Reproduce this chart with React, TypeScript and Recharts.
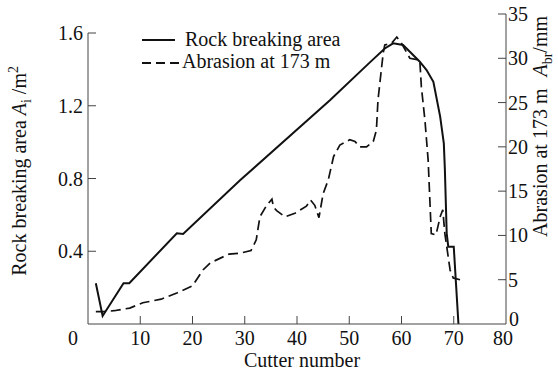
import React from "react";
import {
  LineChart,
  Line,
  XAxis,
  YAxis,
  Legend,
  Label,
  ReferenceLine,
} from "recharts";

// rock breaking area per cutter (m^2)
const rockCutters = [
  1.5, 2.8, 6.8, 7.9, 17.0, 18.2, 29.1, 46.3, 54.0, 56.8, 58.4, 60.3, 61.6,
  63.5, 64.8, 66.1, 67.4, 68.1, 68.3, 68.65, 68.95, 70.0, 70.9,
];
const rockArea = [
  0.224, 0.044, 0.224, 0.224, 0.499, 0.495, 0.79, 1.23, 1.44, 1.515, 1.543,
  1.534, 1.497, 1.442, 1.396, 1.332, 1.14, 0.993, 0.85, 0.499, 0.425, 0.425, 0,
];

// cutter wear after 173 m of advance (mm)
const wearCutters = [
  1.5, 3, 5, 8, 10.5, 14, 17, 20, 22, 23.4, 27, 29.2, 31.2, 32.2, 32.9, 34.2,
  35.2, 35.5, 36.1, 37.7, 39.6, 41.8, 42.6, 43.4, 44.2, 45.0, 46.0, 47.0, 48.2,
  50.1, 51.1, 52.0, 53.3, 54.6, 55.2, 55.5, 56.5, 56.8, 58.1, 59.1, 60.0, 61.6,
  63.5, 63.8, 64.5, 65.1, 65.7, 66.6, 67.4, 67.9, 68.3, 69.3, 69.9, 71.2,
];
const wearDepth = [
  1.4, 1.4, 1.5, 1.8, 2.4, 2.8, 3.5, 4.3, 6.1, 6.9, 7.9, 8.0, 8.3, 9.5, 12.1,
  13.4, 14.1, 13.2, 12.8, 12.1, 12.5, 13.3, 14.0, 13.4, 12.0, 14.7, 16.3, 18.9,
  20.2, 20.8, 20.6, 20.0, 20.0, 20.6, 21.9, 25.3, 30.6, 31.5, 31.7, 32.4, 31.7,
  30.0, 29.8, 26.8, 22.9, 18.5, 10.2, 10.05, 12.1, 12.9, 10.2, 6.1, 5.2, 5.0,
];

const xTicks = [0, 10, 20, 30, 40, 50, 60, 70, 80];
const areaTicks = [0, 0.4, 0.8, 1.2, 1.6];
const wearTicks = [0, 5, 10, 15, 20, 25, 30, 35];

const areaData = rockCutters.map((c, i) => ({ cutter: c, area: rockArea[i] }));
const wearData = wearCutters.map((c, i) => ({ cutter: c, wear: wearDepth[i] }));

const FONT = "'Liberation Serif', 'Times New Roman', serif";
const AXIS = "#444";
const INK = "#111";
const TICK_LEN = 8;

const labelStyle = { fontFamily: FONT, fontSize: 20, fill: INK };

function BottomTick({ x, y, payload }: any) {
  const v = payload.value;
  if (v === 0) {
    // shared origin label sits left of the corner
    return (
      <text x={x - 15} y={y + 21} textAnchor="middle" style={labelStyle}>
        0
      </text>
    );
  }
  // last label nudged left so it clears the right axis "0"
  const dx = v === 80 ? -3 : 0;
  return (
    <g>
      {v < 80 && <line x1={x} x2={x} y1={y} y2={y - TICK_LEN} stroke={AXIS} />}
      <text x={x + dx} y={y + 21} textAnchor="middle" style={labelStyle}>
        {v}
      </text>
    </g>
  );
}

function LeftTick({ x, y, payload }: any) {
  const v = payload.value;
  if (v === 0) return null;
  return (
    <g>
      <line x1={x} x2={x + TICK_LEN} y1={y} y2={y} stroke={AXIS} />
      <text x={x - 5} y={y + 7} textAnchor="end" style={labelStyle}>
        {v.toFixed(1)}
      </text>
    </g>
  );
}

function RightTick({ x, y, payload }: any) {
  const v = payload.value;
  return (
    <g>
      {v > 0 && <line x1={x - TICK_LEN} x2={x} y1={y} y2={y} stroke={AXIS} />}
      <text
        x={v === 0 ? x + 3 : x + 2}
        y={v === 0 ? y + 2 : y + 7}
        textAnchor="start"
        style={labelStyle}
      >
        {v}
      </text>
    </g>
  );
}

const XTitle = ({ viewBox }: any) => (
  <text
    x={viewBox.x + viewBox.width / 2 + 5}
    y={367}
    textAnchor="middle"
    style={labelStyle}
  >
    Cutter number
  </text>
);

const LeftTitle = () => (
  <text
    transform="translate(26,66) rotate(-90)"
    textAnchor="end"
    style={labelStyle}
  >
    Rock breaking area{" "}
    <tspan fontStyle="italic">A</tspan>
    <tspan dy={5} fontSize={14}>
      i
    </tspan>
    <tspan dy={-5}> /m</tspan>
    <tspan dy={-8} fontSize={14}>
      2
    </tspan>
  </text>
);

const RightTitle = () => (
  <text
    transform="translate(547,16) rotate(-90)"
    textAnchor="end"
    style={labelStyle}
  >
    Abrasion at 173 m
    <tspan dx={12} fontStyle="italic">
      A
    </tspan>
    <tspan dy={5} fontSize={14}>
      br
    </tspan>
    <tspan dy={-5}>/mm</tspan>
  </text>
);

const LegendBox = () => (
  <svg width={240} height={50} style={{ display: "block" }}>
    <line x1={4} x2={37} y1={16} y2={16} stroke={INK} strokeWidth={2} />
    <text x={47} y={22} style={labelStyle}>
      Rock breaking area
    </text>
    <line
      x1={4}
      x2={43}
      y1={39}
      y2={39}
      stroke={INK}
      strokeWidth={1.8}
      strokeDasharray="9 5"
    />
    <text x={44} y={44} style={labelStyle}>
      Abrasion at 173 m
    </text>
  </svg>
);

export default function App() {
  return (
    <div style={{ position: "absolute", left: 0, top: 0, background: "#fff" }}>
      <LineChart
        width={558}
        height={372}
        margin={{ top: 14, right: 0, bottom: 0, left: 0 }}
      >
        <XAxis
          dataKey="cutter"
          type="number"
          domain={[0, 80]}
          ticks={xTicks}
          height={48}
          tickSize={0}
          tickMargin={0}
          tickLine={false}
          axisLine={{ stroke: AXIS }}
          tick={<BottomTick />}
          allowDataOverflow
        >
          <Label content={<XTitle />} />
        </XAxis>
        <YAxis
          yAxisId="left"
          orientation="left"
          type="number"
          domain={[0, 1.7045]}
          ticks={areaTicks}
          width={88}
          tickSize={0}
          tickMargin={0}
          tickLine={false}
          axisLine={false}
          tick={<LeftTick />}
          allowDataOverflow
        >
          <Label content={<LeftTitle />} />
        </YAxis>
        <YAxis
          yAxisId="right"
          orientation="right"
          type="number"
          domain={[0, 35]}
          ticks={wearTicks}
          width={52}
          tickSize={0}
          tickMargin={0}
          tickLine={false}
          axisLine={{ stroke: AXIS }}
          tick={<RightTick />}
          allowDataOverflow
        >
          <Label content={<RightTitle />} />
        </YAxis>
        <ReferenceLine
          yAxisId="left"
          segment={[
            { x: 0, y: 0 },
            { x: 0, y: 1.6 },
          ]}
          stroke={AXIS}
        />
        <Legend
          layout="horizontal"
          verticalAlign="middle"
          align="center"
          wrapperStyle={{ left: 138, top: 24, width: 240 }}
          content={<LegendBox />}
        />
        <Line
          yAxisId="left"
          data={areaData}
          dataKey="area"
          name="Rock breaking area"
          stroke={INK}
          strokeWidth={2}
          dot={false}
          type="linear"
          isAnimationActive={false}
        />
        <Line
          yAxisId="right"
          data={wearData}
          dataKey="wear"
          name="Abrasion at 173 m"
          stroke={INK}
          strokeWidth={1.7}
          strokeDasharray="10 5"
          dot={false}
          type="linear"
          isAnimationActive={false}
        />
      </LineChart>
    </div>
  );
}
